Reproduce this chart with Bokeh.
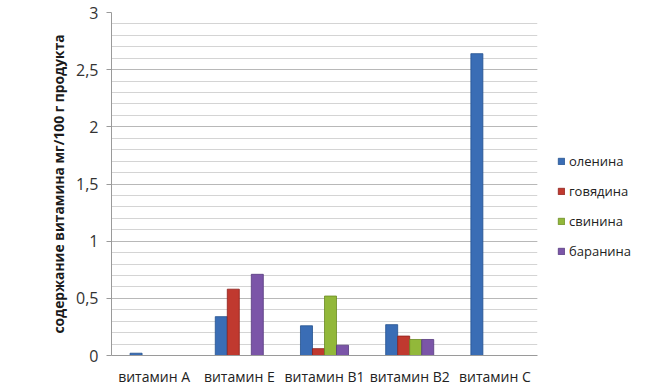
from bokeh.plotting import figure
from bokeh.models import (FactorRange, Range1d, SingleIntervalTicker, CustomJSTickFormatter,
                          Legend, LegendItem, ColumnDataSource)
from bokeh.transform import dodge
from bokeh.embed import file_html
from bokeh.resources import INLINE

categories = ["витамин A", "витамин E", "витамин B1", "витамин B2", "витамин C"]
series_names = ["оленина", "говядина", "свинина", "баранина"]
olenina = [0.02, 0.34, 0.26, 0.27, 2.64]
govyadina = [0.0, 0.58, 0.06, 0.17, 0.0]
svinina = [0.0, 0.0, 0.52, 0.14, 0.0]
baranina = [0.0, 0.71, 0.09, 0.14, 0.0]
colors = ["#3A6DB5", "#C0392F", "#92B83A", "#7B55A8"]
edge_colors = ["#23508F", "#8E1F1A", "#6A8A22", "#563A7E"]

src = ColumnDataSource(dict(cat=categories, s0=olenina, s1=govyadina, s2=svinina, s3=baranina))

FONT = "Open Sans"
p = figure(x_range=FactorRange(*categories), y_range=Range1d(0, 3),
           frame_width=426, frame_height=343,
           min_border_left=111, min_border_top=12, min_border_right=116, min_border_bottom=24,
           output_backend="svg", toolbar_location=None)
p.outline_line_color = None
p.background_fill_color = "white"

w = 0.141
offsets = [-1.5 * w, -0.5 * w, 0.5 * w, 1.5 * w]
renderers = []
for i, key in enumerate(["s0", "s1", "s2", "s3"]):
    r = p.vbar(x=dodge("cat", offsets[i], range=p.x_range), top=key, width=w, source=src,
               fill_color=colors[i], line_color=edge_colors[i], line_width=0.8)
    renderers.append(r)

# y axis
p.yaxis.ticker = SingleIntervalTicker(interval=0.5, num_minor_ticks=5)
p.yaxis.formatter = CustomJSTickFormatter(code="return tick.toString().replace('.', ',');")
p.yaxis.axis_label = "содержание витамина мг/100 г продукта"
p.yaxis.axis_label_text_font = FONT
p.yaxis.axis_label_text_font_style = "bold"
p.yaxis.axis_label_text_font_size = "13.8px"
p.yaxis.axis_label_text_color = "#1a1a1a"
p.yaxis.axis_label_standoff = 5
p.yaxis.major_label_text_font = FONT
p.yaxis.major_label_text_font_size = "16px"
p.yaxis.major_label_text_color = "#333333"
p.yaxis.major_label_standoff = 8
p.yaxis.axis_line_color = "#9a9a9a"
p.yaxis.major_tick_line_color = "#9a9a9a"
p.yaxis.major_tick_out = 5
p.yaxis.major_tick_in = 0
p.yaxis.minor_tick_line_color = None

p.xaxis.major_label_text_font = FONT
p.xaxis.major_label_text_font_size = "14px"
p.xaxis.major_label_text_color = "#222222"
p.xaxis.major_label_standoff = 5
p.xaxis.axis_line_color = "#9a9a9a"
p.xaxis.major_tick_line_color = None
p.xaxis.minor_tick_line_color = None

p.xgrid.grid_line_color = None
p.ygrid.grid_line_color = "#b8b8b8"
p.ygrid.grid_line_width = 1
p.ygrid.minor_grid_line_color = "#d4d4d4"
p.ygrid.minor_grid_line_width = 1

legend = Legend(items=[LegendItem(label=series_names[i], renderers=[renderers[i]]) for i in range(4)],
                location=(20, 94), orientation="vertical")
legend.label_text_font = FONT
legend.label_text_font_size = "13px"
legend.label_text_color = "#222222"
legend.glyph_width = 8
legend.glyph_height = 8
legend.label_height = 20
legend.spacing = 10
legend.label_standoff = 4
legend.border_line_color = None
legend.background_fill_alpha = 0
legend.padding = 0
legend.margin = 0
p.add_layout(legend, "right")

open("out.html", "w").write(file_html(p, INLINE))
